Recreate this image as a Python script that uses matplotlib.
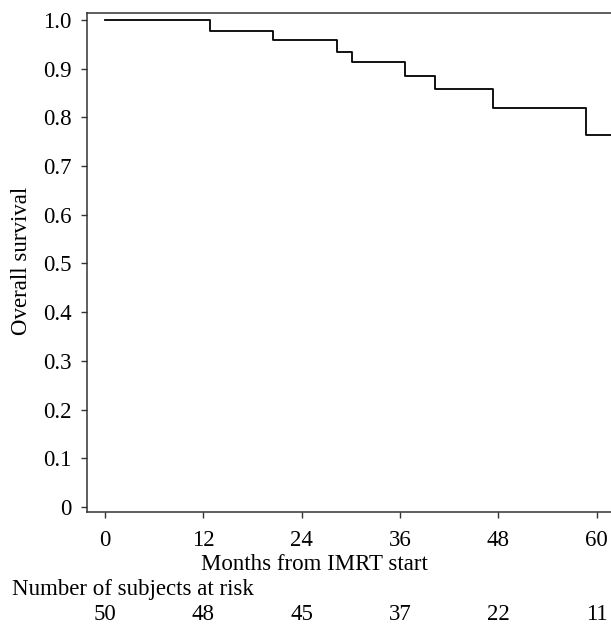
import numpy as np
import matplotlib
matplotlib.use("Agg")
import matplotlib.pyplot as plt
import matplotlib.transforms as mtransforms

# Kaplan-Meier estimate
tempos = [0, 12.8, 20.5, 28.3, 30.2, 36.6, 40.3, 47.3, 58.7, 64]
sobrevida = [1.0, 0.978, 0.958, 0.935, 0.913, 0.886, 0.859, 0.820, 0.763, 0.763]

# number at risk table
meses_tick = [0, 12, 24, 36, 48, 60]
em_risco = [50, 48, 45, 37, 22, 11]
y_ticks = [0, 0.1, 0.2, 0.3, 0.4, 0.5, 0.6, 0.7, 0.8, 0.9, 1.0]
y_labels = ["0", "0.1", "0.2", "0.3", "0.4", "0.5", "0.6", "0.7", "0.8", "0.9", "1.0"]

plt.rcParams['font.family'] = ['Liberation Serif', 'DejaVu Serif']
fs = 16.5

W, H = 611, 628
fig = plt.figure(figsize=(W / 100, H / 100), dpi=100)

# axes placed in pixels; right side runs past the figure edge (cut like the original)
px_mes = 8.195
x0_px = 105
ax_left, ax_top, ax_bot = 87, 12.7, 512
xmin = -(x0_px - ax_left) / px_mes
xmax = 64
ax_w = (xmax - xmin) * px_mes
ax = fig.add_axes([ax_left / W, (H - ax_bot) / H, ax_w / W, (ax_bot - ax_top) / H])

ax.step(tempos, sobrevida, where='post', color='black', linewidth=1.3)

ax.set_xlim(xmin, xmax)
ax.set_ylim(-0.0103, 1.015)
ax.set_xticks(meses_tick)
ax.set_xticklabels([str(m) for m in meses_tick], fontsize=fs)
ax.set_yticks(y_ticks)
ax.set_yticklabels(y_labels, fontsize=fs)
ax.tick_params(direction='out', length=4.5, width=1, color='#333333')
ax.tick_params(axis='x', pad=8.5)
ax.tick_params(axis='y', pad=6.5)

for s in ax.spines.values():
    s.set_color('#333333')
    s.set_linewidth(1.1)

# textos posicionados em pixels da figura
fig.text(21.7 / W, 1 - 261 / H, "Overall survival", fontsize=fs,
         rotation=90, ha='center', va='center')
fig.text(314 / W, 1 - 565 / H, "Months from IMRT start", fontsize=fs,
         ha='center', va='center')
fig.text(12 / W, 1 - 590 / H, "Number of subjects at risk", fontsize=fs,
         ha='left', va='center')
trans = mtransforms.blended_transform_factory(ax.transData, fig.transFigure)
for m, n in zip(meses_tick, em_risco):
    ax.text(m, 1 - 615 / H, str(n), fontsize=fs, ha='center', va='center',
            transform=trans, clip_on=False)

plt.savefig("out.png", dpi=100)
